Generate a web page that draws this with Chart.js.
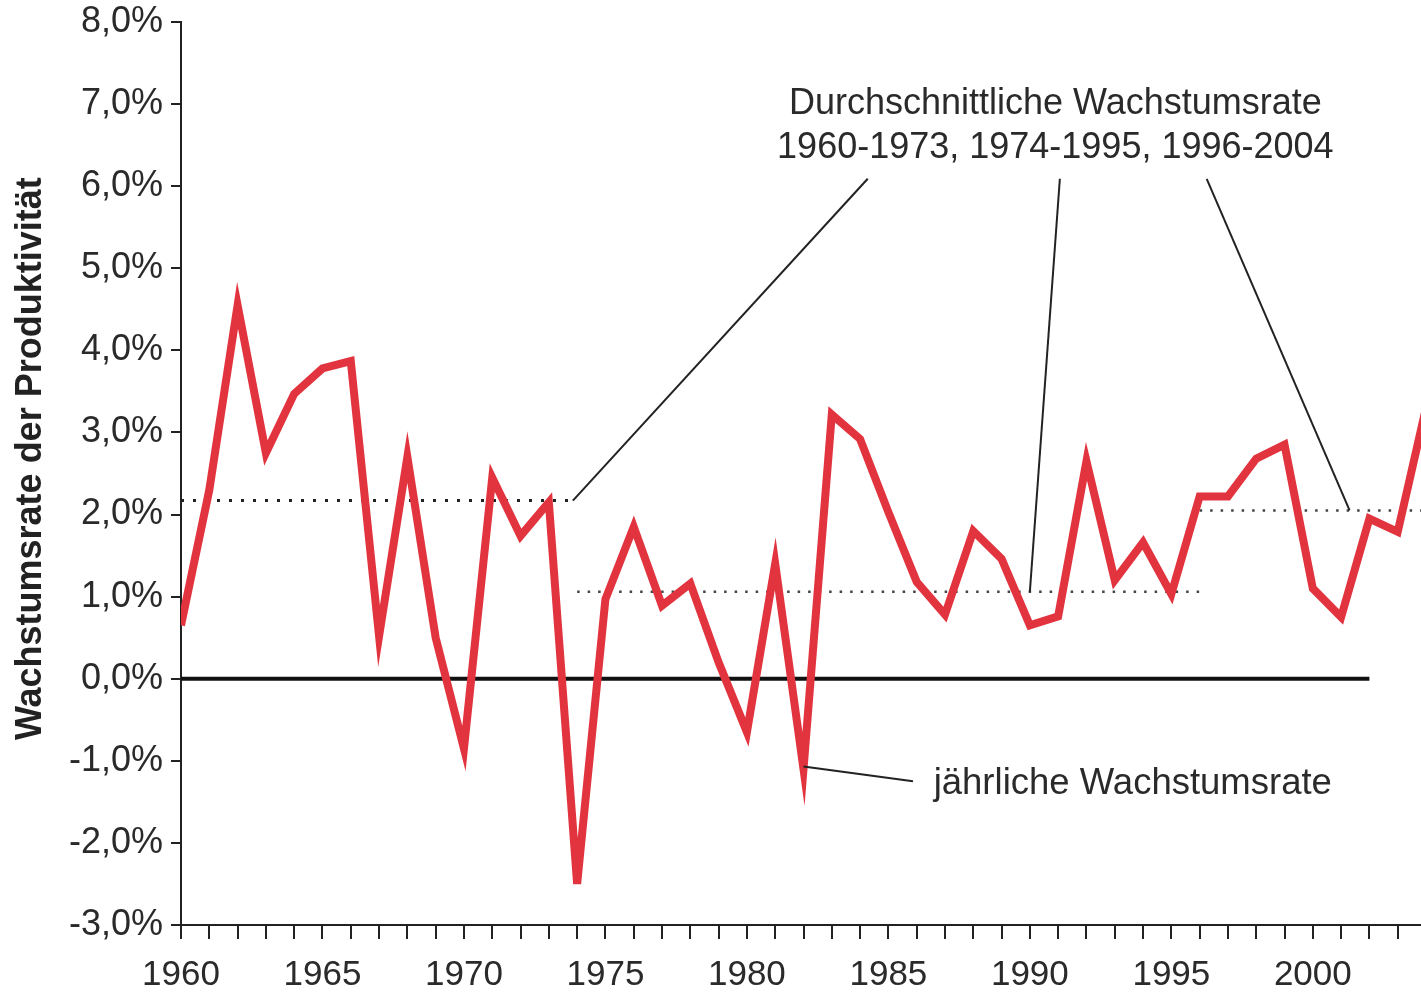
<!DOCTYPE html>
<html>
<head>
<meta charset="utf-8">
<script src="https://cdn.jsdelivr.net/npm/chart.js@4/dist/chart.umd.min.js"></script>
<style>
  html, body { margin: 0; padding: 0; background: #fff; overflow: hidden; }
  #wrap { width: 1440px; height: 992px; position: relative; }
</style>
</head>
<body>
<div id="wrap"><canvas id="c"></canvas></div>
<script>
// ---- data ----
const years = [1960,1961,1962,1963,1964,1965,1966,1967,1968,1969,
               1970,1971,1972,1973,1974,1975,1976,1977,1978,1979,
               1980,1981,1982,1983,1984,1985,1986,1987,1988,1989,
               1990,1991,1992,1993,1994,1995,1996,1997,1998,1999,
               2000,2001,2002,2003,2004];
const growth = [0.65,2.3,4.55,2.75,3.47,3.78,3.87,0.52,2.7,0.5,
                -0.85,2.45,1.74,2.15,-2.5,0.97,1.85,0.89,1.16,0.2,
                -0.65,1.4,-1.1,3.22,2.92,2.03,1.18,0.78,1.8,1.46,
                0.65,0.76,2.65,1.2,1.66,1.03,2.22,2.22,2.68,2.85,
                1.1,0.75,1.95,1.79,3.3];
const avgPeriods = [[1960, 1973.9], [1974, 1996], [1996, 2004]];
const avgValues = [2.17, 1.06, 2.05];
const zeroLineYears = [1960, 2002];
const yTicks = [-3,-2,-1,0,1,2,3,4,5,6,7,8];
const xLabelYears = [1960,1965,1970,1975,1980,1985,1990,1995,2000];
const yTitle = 'Wachstumsrate der Produktivität';
const annoText1 = ['Durchschnittliche Wachstumsrate', '1960-1973, 1974-1995, 1996-2004'];
const annoText2 = 'jährliche Wachstumsrate';
// leader lines in data coordinates: [x1,y1,x2,y2]
const leaders = [
  [1984.27, 6.09, 1973.85, 2.17],
  [1991.06, 6.09, 1990.0, 1.06],
  [1996.25, 6.09, 2001.3, 2.05],
  [1985.87, -1.25, 1982.0, -1.07]
];
const anno1Pos = [1990.9, 7.0, 6.46];   // x center, y line1, y line2
const anno2Pos = [1986.6, -1.28];       // x left, y
const yTitleCenter = 2.68;              // value at which the axis title is centred

const FONT = '"Liberation Sans", Arial, Helvetica, sans-serif';
const red = '#e2343f';

const series = years.map((y, i) => ({x: y, y: growth[i]}));
const avgSets = avgPeriods.map((p, i) => ({
  data: [{x: p[0], y: avgValues[i]}, {x: p[1], y: avgValues[i]}],
  borderColor: i === 0 ? '#222' : '#444',
  borderWidth: i === 0 ? 3 : 2.5,
  borderDash: i === 0 ? [3, 9] : [2.5, 8],
  pointRadius: 0, fill: false, tension: 0
}));

const annoPlugin = {
  id: 'anno',
  afterDatasetsDraw(chart) {
    const {ctx, scales: {x, y}} = chart;
    ctx.save();
    ctx.strokeStyle = '#222';
    ctx.lineWidth = 2;
    leaders.forEach(l => {
      ctx.beginPath();
      ctx.moveTo(x.getPixelForValue(l[0]), y.getPixelForValue(l[1]));
      ctx.lineTo(x.getPixelForValue(l[2]), y.getPixelForValue(l[3]));
      ctx.stroke();
    });
    ctx.fillStyle = '#2a2a2a';
    ctx.font = '36px ' + FONT;
    ctx.textBaseline = 'middle';
    ctx.textAlign = 'center';
    ctx.fillText(annoText1[0], x.getPixelForValue(anno1Pos[0]), y.getPixelForValue(anno1Pos[1]));
    ctx.fillText(annoText1[1], x.getPixelForValue(anno1Pos[0]), y.getPixelForValue(anno1Pos[2]));
    ctx.textAlign = 'left';
    ctx.font = '36.5px ' + FONT;
    ctx.fillText(annoText2, x.getPixelForValue(anno2Pos[0]), y.getPixelForValue(anno2Pos[1]));
    // y axis title
    ctx.save();
    ctx.translate(31, y.getPixelForValue(yTitleCenter));
    ctx.rotate(-Math.PI / 2);
    ctx.textAlign = 'center';
    ctx.fillStyle = '#222';
    ctx.font = 'bold 36px ' + FONT;
    ctx.fillText(yTitle, 0, 0);
    ctx.restore();
    ctx.restore();
  }
};

new Chart(document.getElementById('c'), {
  type: 'line',
  data: {
    datasets: [
      { data: series, borderColor: red, borderWidth: 8, borderJoinStyle: 'miter',
        borderCapStyle: 'butt', pointRadius: 0, fill: false, tension: 0 },
      { data: zeroLineYears.map(v => ({x: v, y: 0})), borderColor: '#111', borderWidth: 4,
        pointRadius: 0, fill: false },
      ...avgSets
    ]
  },
  options: {
    responsive: true,
    maintainAspectRatio: false,
    animation: false,
    layout: { padding: { top: 22, right: 14, left: 0, bottom: 0 } },
    plugins: { legend: { display: false }, tooltip: { enabled: false } },
    scales: {
      x: {
        type: 'linear', min: 1960, max: 2004,
        afterBuildTicks: s => { s.ticks = years.map(v => ({value: v})); },
        afterFit: s => { s.height = 67; s.paddingLeft = 0; s.paddingRight = 0; },
        border: { color: '#222', width: 2 },
        grid: { drawOnChartArea: false, tickLength: 14, color: '#222', lineWidth: 2 },
        ticks: {
          autoSkip: false, maxRotation: 0, padding: 15,
          color: '#2a2a2a', font: { family: FONT, size: 35 },
          callback: v => xLabelYears.includes(v) ? String(v) : ''
        }
      },
      y: {
        min: -3, max: 8,
        afterBuildTicks: s => { s.ticks = yTicks.map(v => ({value: v})); },
        afterFit: s => { s.width = 181; s.paddingTop = 0; s.paddingBottom = 0; },
        border: { color: '#222', width: 2 },
        grid: { drawOnChartArea: false, tickLength: 10, color: '#222', lineWidth: 2 },
        ticks: {
          padding: 8, color: '#2a2a2a', font: { family: FONT, size: 36 },
          callback: v => v.toFixed(1).replace('.', ',') + '%'
        }
      }
    }
  },
  plugins: [annoPlugin]
});
</script>
</body>
</html>
